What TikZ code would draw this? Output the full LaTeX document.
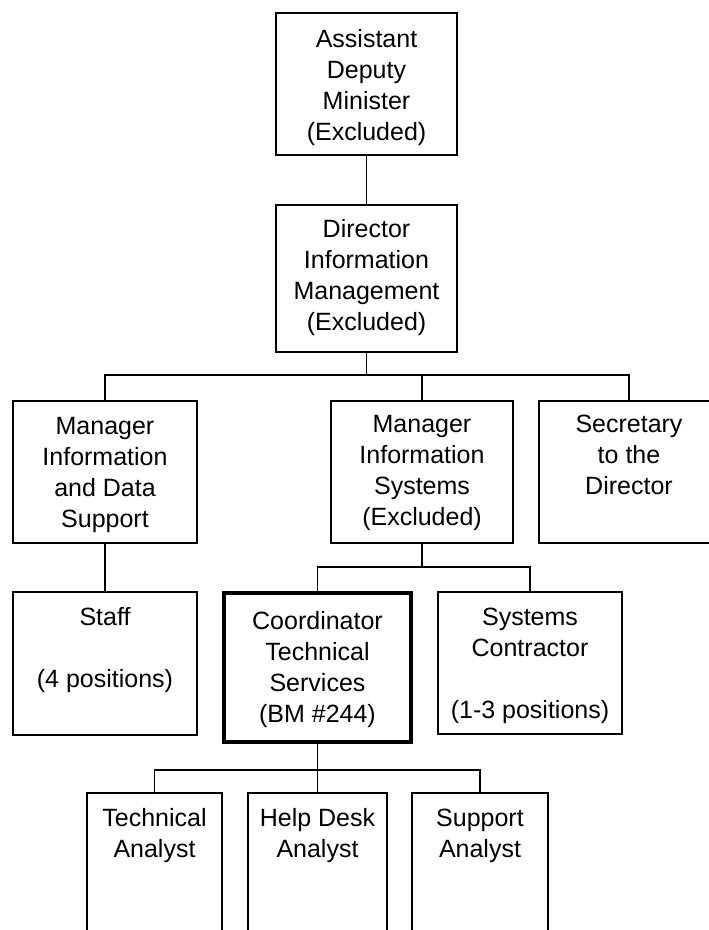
\documentclass[tikz,border=0pt]{standalone}
\usepackage{fontspec}
\setmainfont{Liberation Sans}
\begin{document}
\begin{tikzpicture}[x=1pt, y=-1pt,
  box/.style={draw=black, line width=1.6pt, rectangle, inner sep=0pt, outer sep=0pt},
  thickbox/.style={box, line width=4pt},
  lbl/.style={anchor=north, align=center, inner sep=0pt, outer sep=0pt,
    font=\fontsize{25}{31}\selectfont},
  conn/.style={draw=black, line width=1.6pt}]
\useasboundingbox (0,0) rectangle (709,930);
\clip (0,0) rectangle (709,930);
% boxes
\node[box, minimum width=181pt, minimum height=142pt] (adm) at (366.5,84) {};
\node[box, minimum width=181pt, minimum height=147pt] (dir) at (366.5,278.5) {};
\node[box, minimum width=184pt, minimum height=142pt] (mgr1) at (105,472) {};
\node[box, minimum width=182pt, minimum height=142pt] (mis) at (422,472) {};
\node[box, minimum width=180pt, minimum height=142pt] (sec) at (629,472) {};
\node[box, minimum width=184pt, minimum height=143pt] (staff) at (105,663.5) {};
\node[thickbox, minimum width=187pt, minimum height=149pt] (coord) at (317.5,667.5) {};
\node[box, minimum width=184pt, minimum height=142pt] (syscon) at (530,663) {};
\node[box, minimum width=135pt, minimum height=167pt] (tech) at (154.5,876.5) {};
\node[box, minimum width=139pt, minimum height=167pt] (help) at (317.5,876.5) {};
\node[box, minimum width=136pt, minimum height=167pt] (supp) at (480,876.5) {};
% texts
\node[lbl] (tadm) at (366.5,25.3) {\strut Assistant\\Deputy\\Minister\\(Excluded)};
\node[lbl] (tdir) at (366.5,215.3) {\strut Director\\Information\\Management\\(Excluded)};
\node[lbl] (tmgr1) at (105,412.3) {\strut Manager\\Information\\and Data\\Support};
\node[lbl] (tmis) at (422,410.3) {\strut Manager\\Information\\Systems\\(Excluded)};
\node[lbl] (tsec) at (629,410.3) {\strut Secretary\\to the\\Director};
\node[lbl] (tstaff) at (105,603.3) {\strut Staff\\[31pt](4 positions)};
\node[lbl] (tcoord) at (317.5,607.3) {\strut Coordinator\\Technical\\Services\\(BM \#244)};
\node[lbl] (tsyscon) at (530,603.3) {\strut Systems\\Contractor\\[31pt](1-3 positions)};
\node[lbl] (ttech) at (154.5,804.3) {\strut Technical\\Analyst};
\node[lbl] (thelp) at (317.5,804.3) {\strut Help Desk\\Analyst};
\node[lbl] (tsupp) at (480,804.3) {\strut Support\\Analyst};
% bus coordinates
\coordinate (bus1) at (0,375);
\coordinate (bus2) at (0,567);
\coordinate (bus3) at (0,770);
% connectors
\draw[conn] (adm.south) -- (dir.north);
\draw[conn] (dir.south) -- (dir.south |- bus1);
\draw[conn] (mgr1.north) -- (mgr1.north |- bus1) -- (sec.north |- bus1) -- (sec.north);
\draw[conn] (mis.north) -- (mis.north |- bus1);
\draw[conn] (mgr1.south) -- (staff.north);
\draw[conn] (mis.south) -- (mis.south |- bus2);
\draw[conn] (coord.north) -- (coord.north |- bus2) -- (syscon.north |- bus2) -- (syscon.north);
\draw[conn] (coord.south) -- (coord.south |- bus3);
\draw[conn] (tech.north) -- (tech.north |- bus3) -- (supp.north |- bus3) -- (supp.north);
\draw[conn] (help.north) -- (help.north |- bus3);
\end{tikzpicture}
\end{document}
